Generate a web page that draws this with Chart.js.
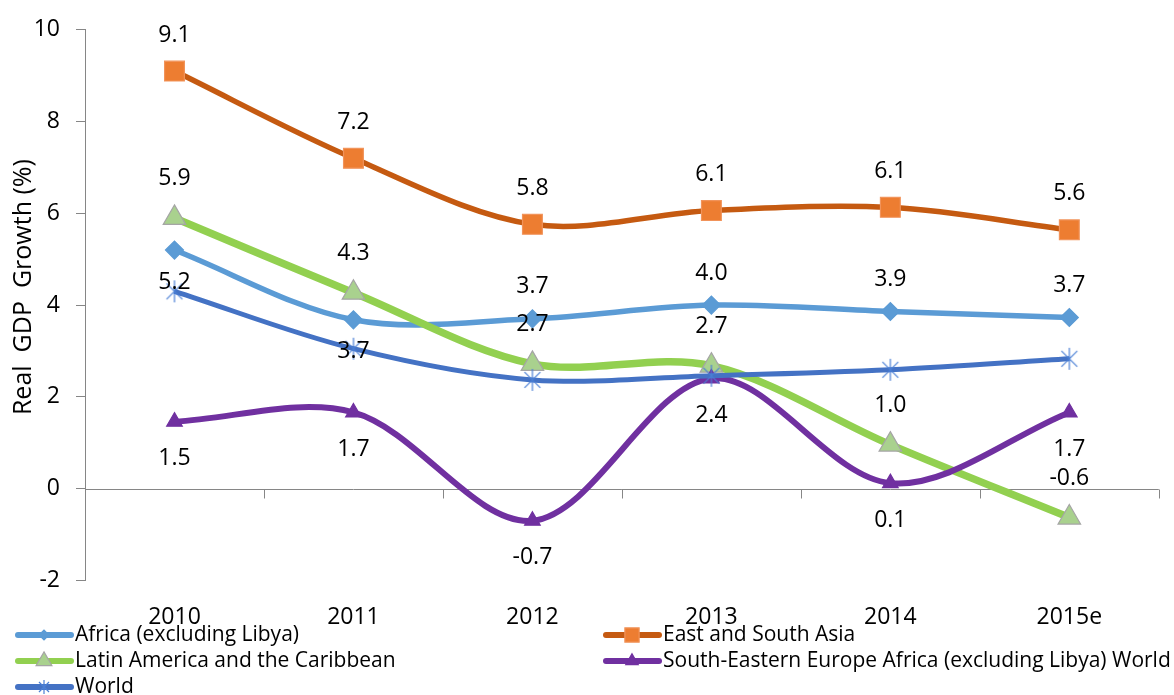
<!DOCTYPE html>
<html>
<head>
<meta charset="utf-8">
<title>Real GDP Growth</title>
<script src="https://cdn.jsdelivr.net/npm/chart.js@4.4.1/dist/chart.umd.min.js"></script>
<style>
    html, body { margin: 0; padding: 0; background: #fff; }
    #wrap { width: 1174px; height: 695px; }
</style>
</head>
<body>
<div id="wrap"><canvas id="gdp-chart"></canvas></div>
<script>
// 年份與各地區實質 GDP 成長率 (%)
const years = ['2010', '2011', '2012', '2013', '2014', '2015e'];
const africa = [5.2, 3.68, 3.7, 4.0, 3.86, 3.73];
const eastSouthAsia = [9.1, 7.2, 5.76, 6.06, 6.13, 5.64];
const latinAmerica = [5.9, 4.27, 2.72, 2.68, 0.96, -0.63];
const seEurope = [1.46, 1.66, -0.7, 2.4, 0.12, 1.66];
const world = [4.3, 3.05, 2.37, 2.46, 2.59, 2.83];
const yTicks = [-2, 0, 2, 4, 6, 8, 10];
const yTitle = 'Real  GDP  Growth (%)';

const FONT = '"Open Sans", "Noto Sans", sans-serif';

// World 用的星形標記 (X 加一條直線)
function makeStar(r, color) {
    const c = document.createElement('canvas');
    const s = Math.ceil(r * 2 + 2);
    c.width = s;
    c.height = s;
    const g = c.getContext('2d');
    const m = s / 2;
    const d = r * 0.72;
    g.strokeStyle = color;
    g.lineWidth = 1.2;
    g.beginPath();
    g.moveTo(m, m - r); g.lineTo(m, m + r);
    g.moveTo(m - d, m - d); g.lineTo(m + d, m + d);
    g.moveTo(m - d, m + d); g.lineTo(m + d, m - d);
    g.stroke();
    return c;
}
const worldStar = makeStar(11, '#4A7FD5');
const worldStarSmall = makeStar(7, '#4A7FD5');

// 數值標籤
const valueLabels = {
    id: 'valueLabels',
    afterDatasetsDraw(chart) {
        const ctx = chart.ctx;
        ctx.save();
        ctx.font = '23px ' + FONT;
        ctx.fillStyle = '#000';
        ctx.textAlign = 'center';
        ctx.textBaseline = 'middle';
        chart.data.datasets.forEach((ds, i) => {
            if (!ds.labelAlign) return;
            chart.getDatasetMeta(i).data.forEach((pt, j) => {
                const dy = ds.labelAlign[j] === 'below' ? ds.labelGap : -ds.labelGap;
                ctx.fillText(ds.data[j].toFixed(1), pt.x, pt.y + dy);
            });
        });
        ctx.restore();
    }
};

// 零軸線、類別刻度與 Y 軸標題
const zeroAxis = {
    id: 'zeroAxis',
    beforeDatasetsDraw(chart) {
        const { ctx, chartArea, scales } = chart;
        const y0 = Math.round(scales.y.getPixelForValue(0)) + 0.5;
        ctx.save();
        ctx.strokeStyle = '#868686';
        ctx.lineWidth = 1;
        ctx.beginPath();
        ctx.moveTo(chartArea.left, y0);
        ctx.lineTo(chartArea.right, y0);
        for (let i = 0; i <= years.length; i++) {
            const x = Math.round(scales.x.getPixelForValue(i - 0.5)) + 0.5;
            ctx.moveTo(x, y0);
            ctx.lineTo(x, y0 + 9);
        }
        ctx.stroke();

        // Y 軸標題 (比圖表區中心略高)
        ctx.translate(24, (chartArea.top + chartArea.bottom) / 2 - 18);
        ctx.rotate(-Math.PI / 2);
        ctx.font = '25px ' + FONT;
        ctx.fillStyle = '#000';
        ctx.textAlign = 'center';
        ctx.textBaseline = 'middle';
        ctx.fillText(yTitle, 0, 0);
        ctx.restore();
    }
};

// 兩欄圖例
const gridLegend = {
    id: 'gridLegend',
    afterDraw(chart) {
        const ctx = chart.ctx;
        const cols = [15, 603];
        const top = chart.height - 60;
        ctx.save();
        ctx.font = '21px ' + FONT;
        ctx.textBaseline = 'middle';
        ctx.textAlign = 'left';
        chart.data.datasets.forEach((ds, i) => {
            const x = cols[i % 2];
            const y = top + Math.floor(i / 2) * 26;
            ctx.strokeStyle = ds.borderColor;
            ctx.lineWidth = 6;
            ctx.lineCap = 'round';
            ctx.beginPath();
            ctx.moveTo(x + 3, y);
            ctx.lineTo(x + 56, y);
            ctx.stroke();
            ctx.fillStyle = ds.pointBackgroundColor;
            ctx.strokeStyle = ds.pointBorderColor;
            ctx.lineWidth = ds.pointBorderWidth;
            ctx.lineCap = 'butt';
            Chart.helpers.drawPoint(ctx, {
                pointStyle: ds.legendStyle || ds.pointStyle,
                radius: ds.pointRadius * ds.legendScale,
                borderWidth: ds.pointBorderWidth
            }, x + 29, y);
            ctx.fillStyle = '#000';
            ctx.fillText(ds.label, x + 60, y);
        });
        ctx.restore();
    }
};

function makeDataset(label, data, line, fill, border, style, radius, width, opts) {
    return Object.assign({
        label: label,
        data: data,
        borderColor: line,
        backgroundColor: line,
        borderWidth: width,
        pointStyle: style,
        pointRadius: radius,
        pointHoverRadius: radius,
        pointBackgroundColor: fill,
        pointBorderColor: border,
        pointBorderWidth: 1.2,
        tension: 0.33,
        fill: false,
        legendScale: 0.75
    }, opts);
}

const datasets = [
    makeDataset('Africa (excluding Libya)', africa, '#5B9BD5', '#5B9BD5', '#5B9BD5', 'rectRot', 9, 5.5,
        { order: 5, labelGap: 32, labelAlign: ['below', 'below', 'above', 'above', 'above', 'above'], legendScale: 0.55 }),
    makeDataset('East and South Asia', eastSouthAsia, '#C55A11', '#ED7D31', '#F1935A', 'rect', 14, 5.5,
        { order: 4, labelGap: 36, labelAlign: ['above', 'above', 'above', 'above', 'above', 'above'], legendScale: 0.72 }),
    makeDataset('Latin America and the Caribbean', latinAmerica, '#92D050', '#A9D18E', '#A5A5A5', 'triangle', 13, 7.5,
        { order: 3, labelGap: 39, labelAlign: ['above', 'above', 'above', 'above', 'above', 'above'], legendScale: 0.7 }),
    makeDataset('South-Eastern Europe Africa (excluding Libya) World', seEurope, '#7030A0', '#7030A0', '#7030A0', 'triangle', 9, 6,
        { order: 2, labelGap: 37, labelAlign: ['below', 'below', 'below', 'below', 'below', 'below'], legendScale: 0.8 }),
    makeDataset('World', world, '#4472C4', '#4472C4', '#4A7FD5', worldStar, 11, 5,
        { order: 1, legendStyle: worldStarSmall })
];

new Chart(document.getElementById('gdp-chart').getContext('2d'), {
    type: 'line',
    data: { labels: years, datasets: datasets },
    options: {
        responsive: true,
        maintainAspectRatio: false,
        animation: false,
        layout: { padding: { top: 28, right: 14, bottom: 49, left: 0 } },
        plugins: {
            legend: { display: false },
            tooltip: { enabled: false }
        },
        scales: {
            x: {
                offset: true,
                grid: { display: false },
                border: { display: false },
                ticks: {
                    color: '#000',
                    padding: 15,
                    font: { family: FONT, size: 23 }
                }
            },
            y: {
                min: -2,
                max: 10,
                afterBuildTicks: scale => { scale.ticks = yTicks.map(v => ({ value: v })); },
                afterFit: scale => { scale.width = 85; },
                grid: { drawOnChartArea: false, tickLength: 9, color: '#868686' },
                border: { display: true, color: '#868686' },
                ticks: {
                    color: '#000',
                    padding: 16,
                    font: { family: FONT, size: 23 }
                }
            }
        }
    },
    plugins: [zeroAxis, valueLabels, gridLegend]
});
</script>
</body>
</html>
